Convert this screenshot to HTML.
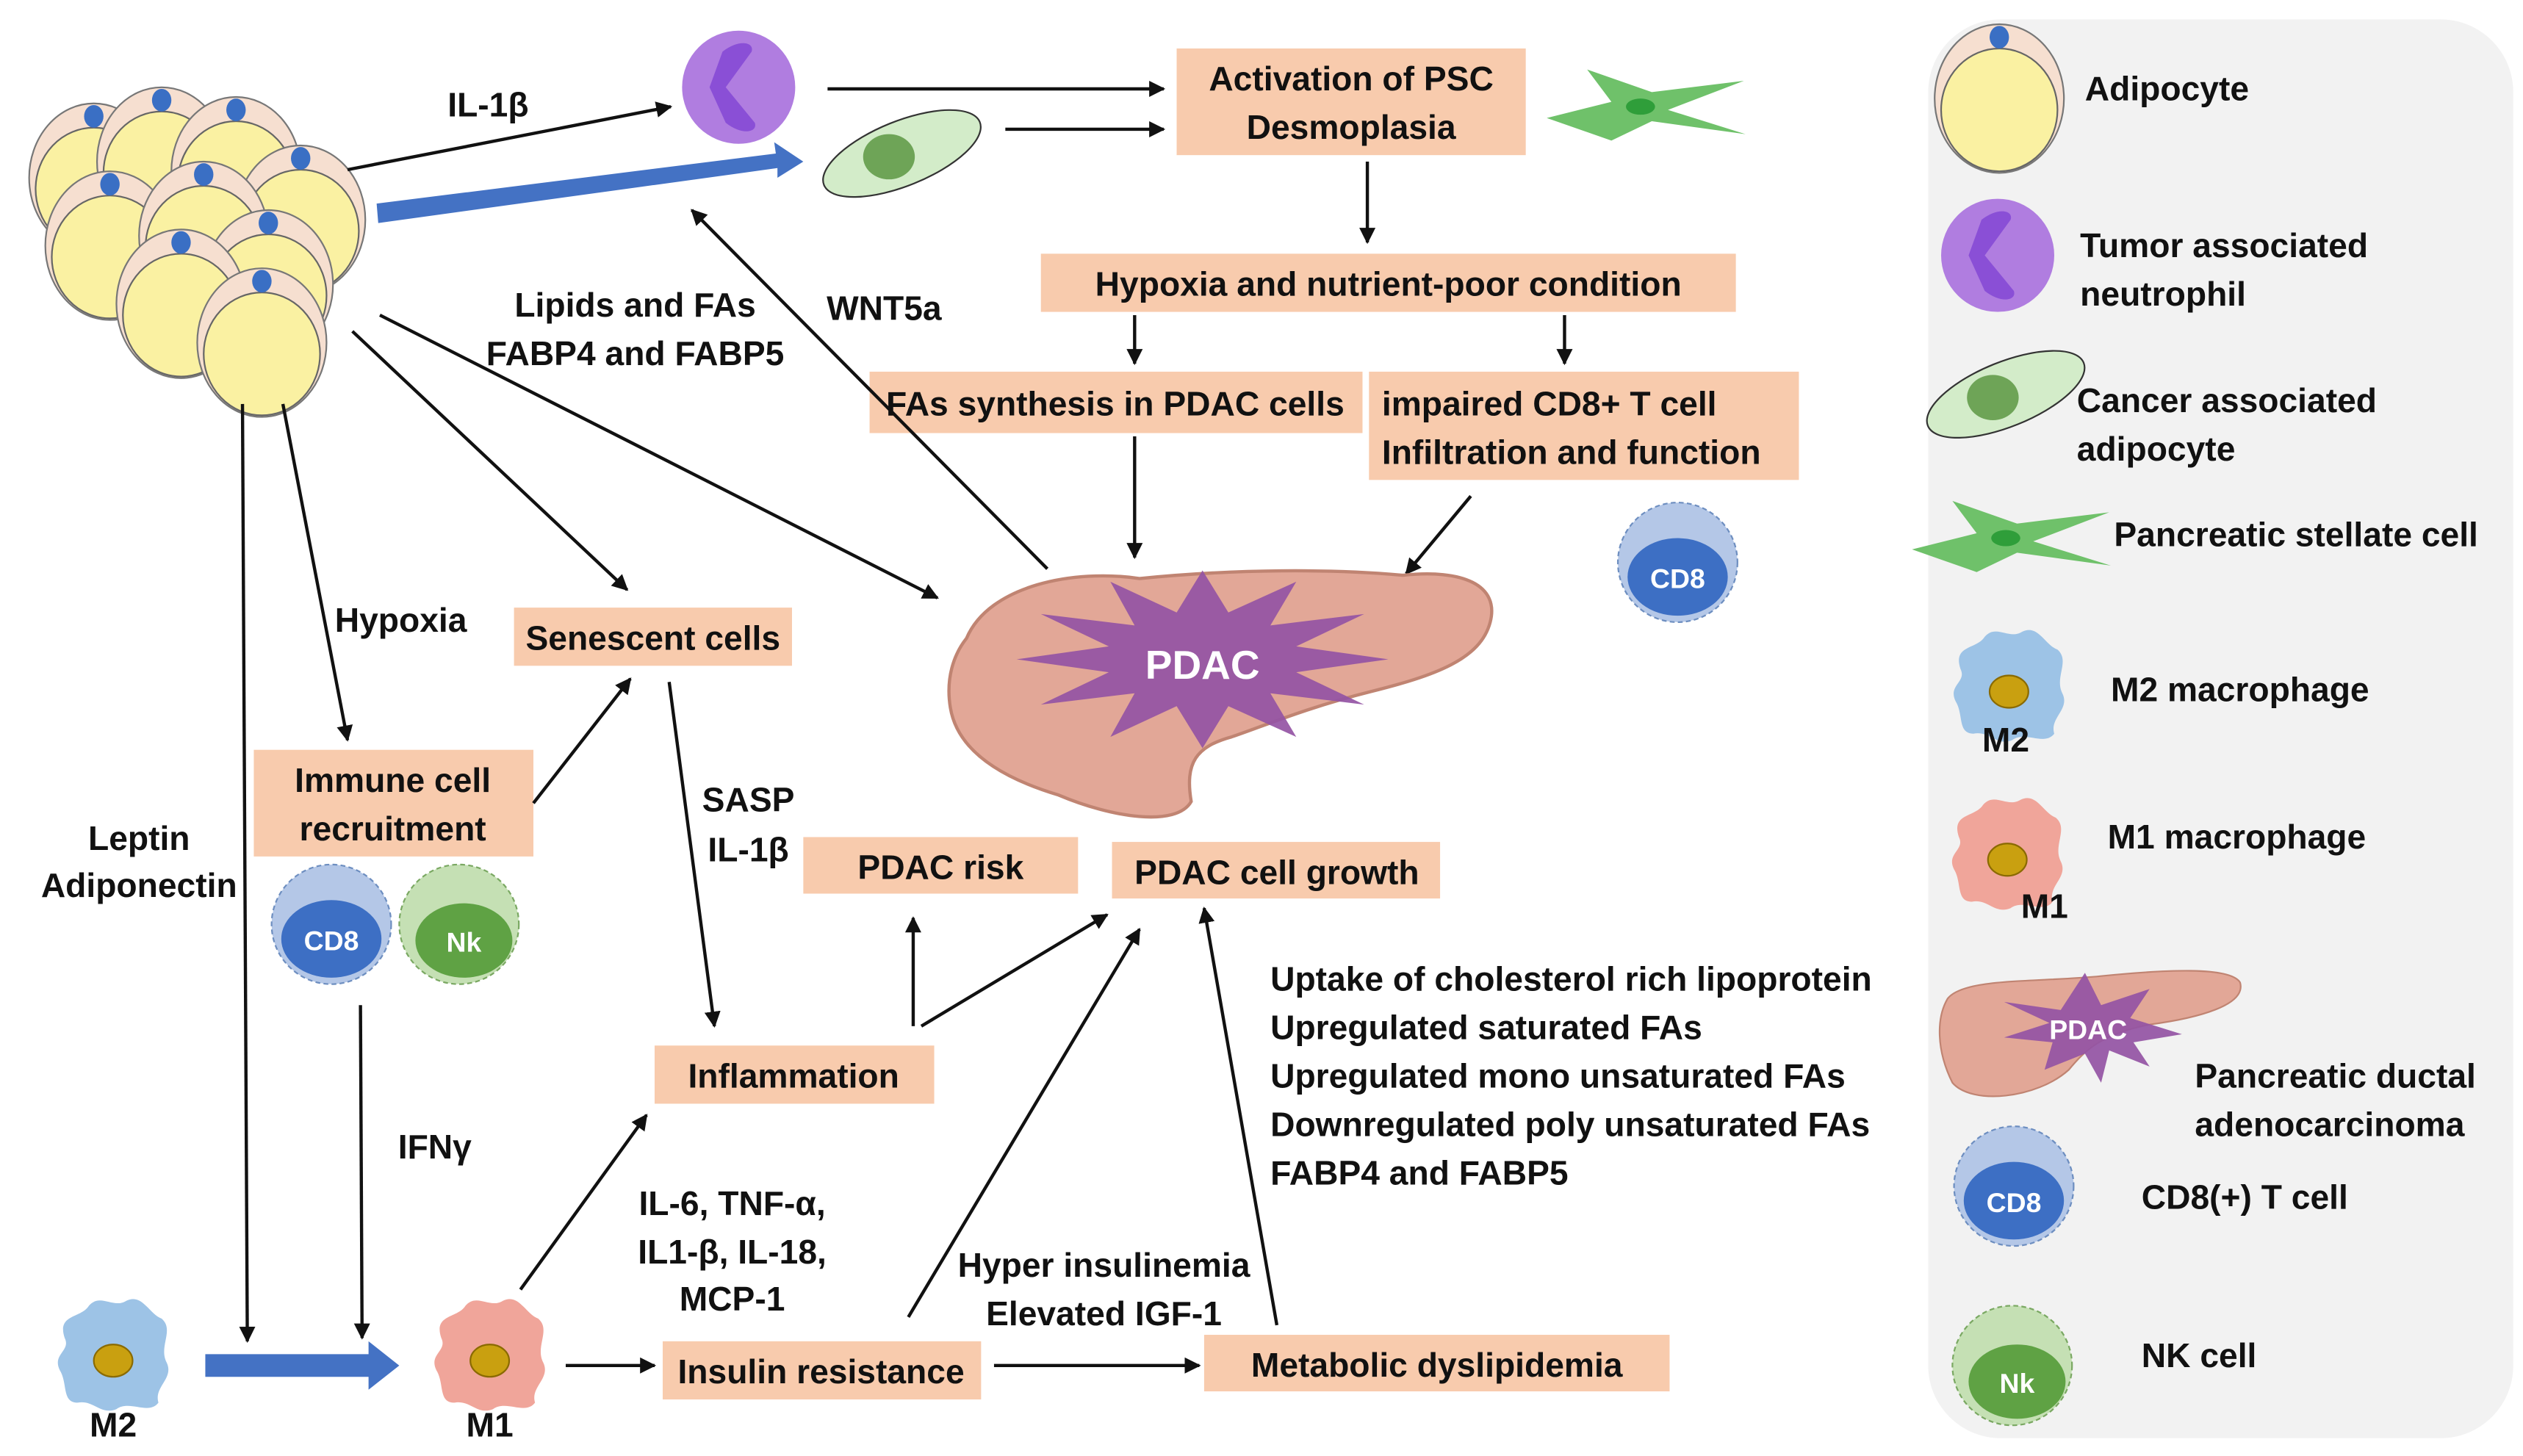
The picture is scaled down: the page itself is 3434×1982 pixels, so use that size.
<!DOCTYPE html>
<html><head><meta charset="utf-8"><style>
html,body{margin:0;padding:0;background:#fff;}
svg{display:block;}
.t{font-family:"Liberation Sans Narrow","Liberation Sans",sans-serif;font-weight:bold;font-size:21px;fill:#111;}
.l{font-family:"Liberation Sans",sans-serif;font-weight:bold;font-size:21px;fill:#111;}
.b{fill:#f8cbad;}
.a{stroke:#111;stroke-width:2;fill:none;marker-end:url(#ah);}
</style></head><body>
<svg width="3434" height="1982" viewBox="0 0 1561 901" xmlns="http://www.w3.org/2000/svg">
<defs>
<marker id="ah" viewBox="0 0 10 10" refX="9" refY="5" markerWidth="10" markerHeight="10" markerUnits="userSpaceOnUse" orient="auto"><path d="M0,0 L10,5 L0,10 z" fill="#111"/></marker>
<g id="adi"><ellipse cx="0" cy="0" rx="40" ry="46" fill="#f6dfd0" stroke="#777" stroke-width="1"/><ellipse cx="0" cy="7" rx="36" ry="38" fill="#faf1a2" stroke="#666" stroke-width="1"/><ellipse cx="0" cy="-38" rx="6" ry="7" fill="#3a6fc4"/></g>
<path id="mac" d="M-30,-10 C-35,-25 -20,-22 -15,-30 C-8,-38 0,-28 8,-33 C18,-38 22,-25 30,-22 C38,-15 28,-5 33,5 C38,15 25,20 28,30 C22,38 10,28 2,34 C-8,38 -12,28 -22,30 C-32,30 -28,18 -33,10 C-38,0 -26,-2 -30,-10 Z"/>
<g id="cd8"><circle r="37" fill="#b4c7e7" stroke="#6d8ec0" stroke-width="1" stroke-dasharray="3,2"/><ellipse cx="0" cy="9" rx="31" ry="24" fill="#3d6fc4"/><text x="0" y="16" text-anchor="middle" font-family="Liberation Sans Narrow, Liberation Sans, sans-serif" font-weight="bold" font-size="17" fill="#fff">CD8</text></g>
<g id="nk"><circle r="37" fill="#c5e0b4" stroke="#7aa862" stroke-width="1" stroke-dasharray="3,2"/><ellipse cx="3" cy="10" rx="30" ry="23" fill="#5fa244"/><text x="3" y="17" text-anchor="middle" font-family="Liberation Sans Narrow, Liberation Sans, sans-serif" font-weight="bold" font-size="17" fill="#fff">Nk</text></g>
<g id="neu"><circle r="35" fill="#b07de0"/><path d="M-10,-22 C0,-30 10,-28 8,-22 L-8,0 L10,22 C12,28 2,30 -8,22 L-18,0 Z" fill="#8a4fd6"/></g>
<g id="caa"><ellipse rx="52" ry="20" fill="#d3ecc9" stroke="#333" stroke-width="1" transform="rotate(-22)"/><ellipse cx="-8" cy="2" rx="16" ry="14" fill="#6ea457"/></g>
<path id="psc" d="M-60,8 L-20,-2 L-35,-22 L5,-8 L62,-15 L15,3 L63,18 L5,10 L-20,22 Z"/>
</defs>

<rect x="1193" y="12" width="362" height="878" rx="45" fill="#f2f2f2"/>

<use href="#adi" x="58" y="110"/>
<use href="#adi" x="100" y="100"/>
<use href="#adi" x="146" y="106"/>
<use href="#adi" x="68" y="152"/>
<use href="#adi" x="186" y="136"/>
<use href="#adi" x="126" y="146"/>
<use href="#adi" x="166" y="176"/>
<use href="#adi" x="112" y="188"/>
<use href="#adi" x="162" y="212"/>

<use href="#neu" x="457" y="54"/>
<use href="#caa" x="558" y="95"/>
<use href="#psc" x="1017" y="65" fill="#6fc16a"/>
<ellipse cx="1015" cy="66" rx="9" ry="5" fill="#2f9e3a"/>

<line class="a" x1="215" y1="105" x2="415" y2="66"/>
<text class="t" x="302" y="72" text-anchor="middle">IL-1β</text>
<path d="M233,126 L480,95 L479,88 L497,100 L481,110 L481,104 L234,138 Z" fill="#4472c4"/>
<line class="a" x1="512" y1="55" x2="720" y2="55"/>
<line class="a" x1="622" y1="80" x2="720" y2="80"/>
<rect class="b" x="728" y="30" width="216" height="66"/>
<text class="t" x="836" y="56" text-anchor="middle">Activation of PSC</text>
<text class="t" x="836" y="86" text-anchor="middle">Desmoplasia</text>
<line class="a" x1="846" y1="100" x2="846" y2="150"/>
<rect class="b" x="644" y="157" width="430" height="36"/>
<text class="t" x="859" y="183" text-anchor="middle">Hypoxia and nutrient-poor condition</text>
<line class="a" x1="702" y1="195" x2="702" y2="225"/>
<line class="a" x1="968" y1="195" x2="968" y2="225"/>
<rect class="b" x="538" y="230" width="305" height="38"/>
<text class="t" x="690" y="257" text-anchor="middle">FAs synthesis in PDAC cells</text>
<rect class="b" x="847" y="230" width="266" height="67"/>
<text class="t" x="855" y="257">impaired CD8+ T cell</text>
<text class="t" x="855" y="287">Infiltration and function</text>
<line class="a" x1="702" y1="270" x2="702" y2="345"/>
<line class="a" x1="910" y1="307" x2="870" y2="355"/>
<line class="a" x1="648" y1="352" x2="428" y2="130"/>
<text class="t" x="547" y="198" text-anchor="middle">WNT5a</text>
<text class="t" x="393" y="196" text-anchor="middle">Lipids and FAs</text>
<text class="t" x="393" y="226" text-anchor="middle">FABP4 and FABP5</text>
<use href="#cd8" x="1038" y="348"/>

<line class="a" x1="235" y1="195" x2="580" y2="370"/>
<line class="a" x1="218" y1="205" x2="388" y2="365"/>
<line class="a" x1="175" y1="250" x2="215" y2="458"/>
<text class="t" x="248" y="391" text-anchor="middle">Hypoxia</text>
<line class="a" x1="150" y1="250" x2="153" y2="830"/>
<text class="t" x="86" y="526" text-anchor="middle">Leptin</text>
<text class="t" x="86" y="555" text-anchor="middle">Adiponectin</text>

<rect class="b" x="318" y="376" width="172" height="36"/>
<text class="t" x="404" y="402" text-anchor="middle">Senescent cells</text>
<rect class="b" x="157" y="464" width="173" height="66"/>
<text class="t" x="243" y="490" text-anchor="middle">Immune cell</text>
<text class="t" x="243" y="520" text-anchor="middle">recruitment</text>
<line class="a" x1="330" y1="497" x2="390" y2="420"/>
<use href="#cd8" x="205" y="572"/>
<use href="#nk" x="284" y="572"/>
<line class="a" x1="223" y1="622" x2="224" y2="828"/>
<text class="t" x="269" y="717" text-anchor="middle">IFNγ</text>
<line class="a" x1="414" y1="422" x2="442" y2="635"/>
<text class="t" x="463" y="502" text-anchor="middle">SASP</text>
<text class="t" x="463" y="533" text-anchor="middle">IL-1β</text>

<path d="M598,395 C612,362 665,352 705,358 C765,352 825,352 868,356 C905,352 928,362 922,385 C916,408 888,418 848,428 C808,438 780,450 762,456 C740,462 733,472 737,496 C728,512 688,506 655,492 C615,480 592,462 588,438 C585,420 590,405 598,395 Z" fill="#e2a797" stroke="#c08472" stroke-width="2"/>
<polygon fill="#9454a4" opacity="0.92" points="859,408 802,416 844,436 786,429 802,456 760,437 744,463 728,437 687,456 702,429 644,436 686,416 629,408 686,400 644,380 702,387 687,360 728,379 744,353 760,379 802,360 786,387 844,380 802,400"/>
<text x="744" y="420" text-anchor="middle" font-family="Liberation Sans Narrow, Liberation Sans, sans-serif" font-weight="bold" font-size="25" fill="#fff">PDAC</text>

<rect class="b" x="497" y="518" width="170" height="35"/>
<text class="t" x="582" y="544" text-anchor="middle">PDAC risk</text>
<rect class="b" x="688" y="521" width="203" height="35"/>
<text class="t" x="790" y="547" text-anchor="middle">PDAC cell growth</text>
<rect class="b" x="405" y="647" width="173" height="36"/>
<text class="t" x="491" y="673" text-anchor="middle">Inflammation</text>
<line class="a" x1="565" y1="635" x2="565" y2="568"/>
<line class="a" x1="570" y1="635" x2="685" y2="566"/>

<use href="#mac" x="70" y="838" fill="#9dc3e6"/>
<ellipse cx="70" cy="842" rx="12" ry="10" fill="#c9a010" stroke="#8a6a00"/>
<text class="t" x="70" y="889" text-anchor="middle" font-size="19">M2</text>
<path d="M127,838 L228,838 L228,830 L247,845 L228,860 L228,852 L127,852 Z" fill="#4472c4"/>
<use href="#mac" x="303" y="838" fill="#f0a59a"/>
<ellipse cx="303" cy="842" rx="12" ry="10" fill="#c9a010" stroke="#8a6a00"/>
<text class="t" x="303" y="889" text-anchor="middle" font-size="19">M1</text>
<line class="a" x1="322" y1="798" x2="400" y2="690"/>
<text class="t" x="453" y="752" text-anchor="middle">IL-6, TNF-α,</text>
<text class="t" x="453" y="782" text-anchor="middle">IL1-β, IL-18,</text>
<text class="t" x="453" y="811" text-anchor="middle">MCP-1</text>
<line class="a" x1="350" y1="845" x2="405" y2="845"/>
<rect class="b" x="410" y="830" width="197" height="36"/>
<text class="t" x="508" y="856" text-anchor="middle">Insulin resistance</text>
<line class="a" x1="562" y1="815" x2="705" y2="575"/>
<text class="t" x="683" y="790" text-anchor="middle">Hyper insulinemia</text>
<text class="t" x="683" y="820" text-anchor="middle">Elevated IGF-1</text>
<line class="a" x1="615" y1="845" x2="742" y2="845"/>
<rect class="b" x="745" y="826" width="288" height="35"/>
<text class="t" x="889" y="852" text-anchor="middle">Metabolic dyslipidemia</text>
<line class="a" x1="790" y1="820" x2="745" y2="562"/>
<text class="t" x="786" y="613">Uptake of cholesterol rich lipoprotein</text>
<text class="t" x="786" y="643">Upregulated saturated FAs</text>
<text class="t" x="786" y="673">Upregulated mono unsaturated FAs</text>
<text class="t" x="786" y="703">Downregulated poly unsaturated FAs</text>
<text class="t" x="786" y="733">FABP4 and FABP5</text>

<use href="#adi" x="1237" y="61"/>
<text class="l" x="1290" y="62">Adipocyte</text>
<use href="#neu" x="1236" y="158"/>
<text class="l" x="1287" y="159">Tumor associated</text>
<text class="l" x="1287" y="189">neutrophil</text>
<use href="#caa" x="1241" y="244"/>
<text class="l" x="1285" y="255">Cancer associated</text>
<text class="l" x="1285" y="285">adipocyte</text>
<use href="#psc" x="1243" y="332" fill="#6fc16a"/>
<ellipse cx="1241" cy="333" rx="9" ry="5" fill="#2f9e3a"/>
<text class="l" x="1308" y="338">Pancreatic stellate cell</text>
<use href="#mac" x="1243" y="424" fill="#9dc3e6"/>
<ellipse cx="1243" cy="428" rx="12" ry="10" fill="#c9a010" stroke="#8a6a00"/>
<text class="l" x="1241" y="465" text-anchor="middle" font-size="17">M2</text>
<text class="l" x="1306" y="434">M2 macrophage</text>
<use href="#mac" x="1242" y="528" fill="#f0a59a"/>
<ellipse cx="1242" cy="532" rx="12" ry="10" fill="#c9a010" stroke="#8a6a00"/>
<text class="l" x="1265" y="568" text-anchor="middle" font-size="17">M1</text>
<text class="l" x="1304" y="525">M1 macrophage</text>
<path d="M1205,618 C1215,605 1260,608 1300,604 C1340,600 1380,598 1386,608 C1390,622 1360,630 1330,634 C1300,640 1290,650 1280,662 C1260,680 1220,684 1208,670 C1198,650 1198,630 1205,618 Z" fill="#e2a797" stroke="#c08472"/>
<polygon fill="#9454a4" opacity="0.92" points="1350,640 1320,645 1330,660 1305,650 1300,670 1290,652 1265,662 1270,645 1240,642 1268,633 1240,620 1275,625 1290,602 1300,622 1330,612 1318,630"/>
<text x="1292" y="643" text-anchor="middle" font-family="Liberation Sans, sans-serif" font-weight="bold" font-size="17" fill="#fff">PDAC</text>
<text class="l" x="1358" y="673">Pancreatic ductal</text>
<text class="l" x="1358" y="703">adenocarcinoma</text>
<use href="#cd8" x="1246" y="734"/>
<text class="l" x="1325" y="748">CD8(+) T cell</text>
<use href="#nk" x="1245" y="845"/>
<text class="l" x="1325" y="846">NK cell</text>
</svg>
</body></html>
